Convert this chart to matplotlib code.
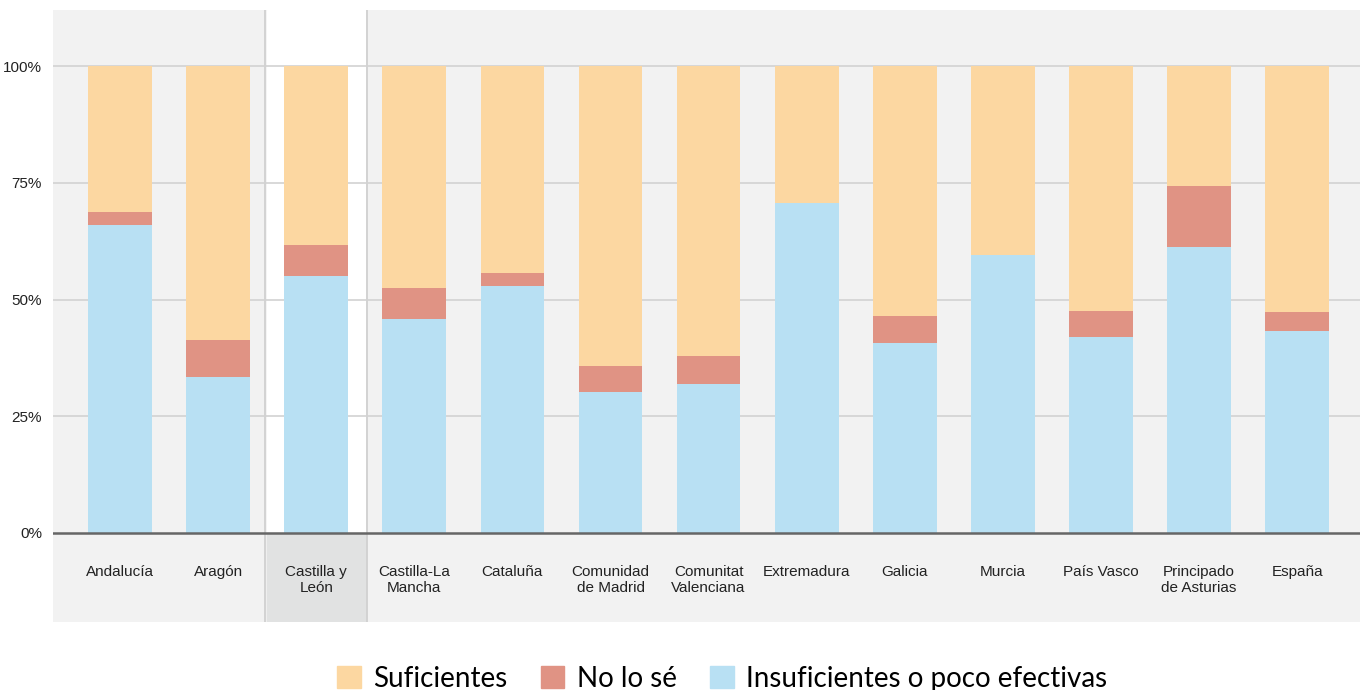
import numpy as np
import matplotlib.pyplot as plt
from matplotlib.patches import Patch

regions = ["Andalucía", "Aragón", "Castilla y\nLeón", "Castilla-La\nMancha", "Cataluña",
           "Comunidad\nde Madrid", "Comunitat\nValenciana", "Extremadura", "Galicia",
           "Murcia", "País Vasco", "Principado\nde Asturias", "España"]
insuficientes = [66.0, 33.4, 55.0, 45.8, 52.9, 30.2, 31.9, 70.7, 40.7, 59.5, 42.0, 61.2, 43.3]
no_lo_se = [2.7, 7.9, 6.7, 6.7, 2.8, 5.6, 6.0, 0.0, 5.8, 0.0, 5.5, 13.1, 4.0]
suficientes = [100 - a - b for a, b in zip(insuficientes, no_lo_se)]
highlight = 2

c_suf = "#fcd7a1"
c_nls = "#e09384"
c_ins = "#b8e0f3"

plt.rcParams['font.family'] = ['Liberation Sans', 'DejaVu Sans']

fig = plt.figure(figsize=(13.6, 6.9), dpi=100)
ax = fig.add_axes([53 / 1360, 1 - 622 / 690, 1 - 53 / 1360, 612 / 690])
ax.set_facecolor("#f2f2f2")

x = np.arange(len(regions))
ins = np.array(insuficientes) / 100
nls = np.array(no_lo_se) / 100
suf = np.array(suficientes) / 100

ymin, ymax = -0.1906, 1.12
ax.set_ylim(ymin, ymax)
ax.set_xlim(-0.683, 12.64)

# highlighted column
ax.axvspan(highlight - 0.5, highlight + 0.5, ymin=(0 - ymin) / (ymax - ymin), ymax=1,
           color="white", zorder=0)
ax.axvspan(highlight - 0.5, highlight + 0.5, ymin=0, ymax=(0 - ymin) / (ymax - ymin),
           color="#e1e2e2", zorder=0)
for xv in (highlight - 0.52, highlight + 0.52):
    ax.axvline(xv, color="#d0d0d0", lw=1.3, zorder=1)

for yv in (0.25, 0.5, 0.75, 1.0):
    ax.axhline(yv, color="#d2d2d2", lw=1.2, zorder=1)

w = 0.65
ax.bar(x, ins, w, color=c_ins, zorder=2)
ax.bar(x, nls, w, bottom=ins, color=c_nls, zorder=2)
ax.bar(x, suf, w, bottom=ins + nls, color=c_suf, zorder=2)

ax.axhline(0, color="#666666", lw=1.8, zorder=3)

for xi, lab in zip(x, regions):
    ax.text(xi, -0.068, lab, ha="center", va="top", fontsize=11, color="#222222",
            linespacing=1.2)

ax.set_yticks([0, 0.25, 0.5, 0.75, 1.0])
ax.set_yticklabels(["0%", "25%", "50%", "75%", "100%"], fontsize=11, color="#222222")
ax.tick_params(axis="y", length=0, pad=8)
ax.set_xticks([])
for s in ax.spines.values():
    s.set_visible(False)

handles = [Patch(color=c_suf, label="Suficientes"),
           Patch(color=c_nls, label="No lo sé"),
           Patch(color=c_ins, label="Insuficientes o poco efectivas")]
fig.legend(handles=handles, loc="center", bbox_to_anchor=(0.531, 0.016), ncol=3,
           frameon=False, handlelength=0.85, handleheight=0.85,
           handletextpad=0.45, columnspacing=1.2, prop={"family": "Lato", "size": 20})

fig.savefig("out.png", dpi=100)
